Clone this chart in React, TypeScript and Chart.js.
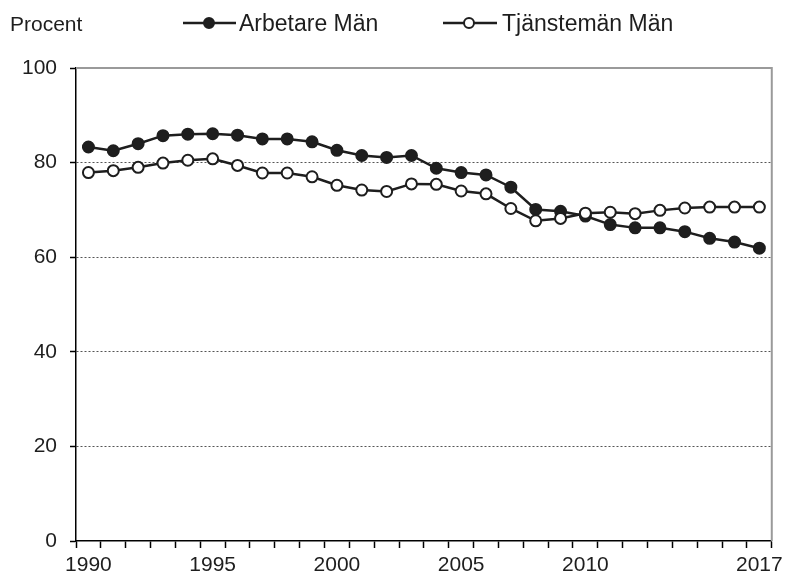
import React, { useEffect, useRef } from "react";
import { Chart, registerables } from "chart.js";

Chart.register(...registerables);

const years = ["1990","1991","1992","1993","1994","1995","1996","1997","1998","1999","2000","2001","2002","2003","2004","2005","2006","2007","2008","2009","2010","2011","2012","2013","2014","2015","2016","2017"];
const arbetareMan = [83.3,82.5,84.0,85.7,86.0,86.1,85.8,85.0,85.0,84.4,82.6,81.5,81.1,81.5,78.8,77.9,77.4,74.8,70.1,69.7,68.7,66.9,66.2,66.2,65.4,64.0,63.2,61.9];
const tjanstemanMan = [77.9,78.3,79.0,79.9,80.5,80.8,79.4,77.8,77.8,77.0,75.2,74.2,73.9,75.5,75.4,74.0,73.4,70.3,67.7,68.2,69.3,69.5,69.2,69.9,70.4,70.6,70.6,70.6];
const shownYears = ["1990","1995","2000","2005","2010","2017"];
const yTicks = [0, 20, 40, 60, 80, 100];
const seriesNames = ["Arbetare Män", "Tjänstemän Män"];
const yTitle = "Procent";

const FONT = "'Liberation Sans', Arial, Helvetica, sans-serif";
const INK = "#1e1e1e";

const overlayPlugin = {
  id: "overlay",
  beforeDatasetsDraw(chart: any) {
    const { ctx, chartArea } = chart;
    ctx.save();
    ctx.strokeStyle = "#9a9a9a";
    ctx.lineWidth = 2;
    ctx.beginPath();
    ctx.moveTo(chartArea.left, chartArea.top);
    ctx.lineTo(chartArea.right, chartArea.top);
    ctx.lineTo(chartArea.right, chartArea.bottom);
    ctx.stroke();
    ctx.restore();
  },
  afterDraw(chart: any) {
    const { ctx } = chart;
    ctx.save();
    ctx.fillStyle = INK;
    ctx.textBaseline = "alphabetic";
    ctx.textAlign = "left";
    ctx.font = `21px ${FONT}`;
    ctx.fillText(yTitle, 10, 31);

    const items = [
      { x0: 183, x1: 236, cx: 209, tx: 239, filled: true, label: seriesNames[0] },
      { x0: 443, x1: 497, cx: 469, tx: 502, filled: false, label: seriesNames[1] },
    ];
    const ly = 23;
    for (const it of items) {
      ctx.strokeStyle = INK;
      ctx.lineWidth = 2.5;
      ctx.beginPath();
      ctx.moveTo(it.x0, ly);
      ctx.lineTo(it.x1, ly);
      ctx.stroke();
      ctx.beginPath();
      ctx.arc(it.cx, ly, 5, 0, Math.PI * 2);
      ctx.fillStyle = it.filled ? INK : "#ffffff";
      ctx.fill();
      ctx.lineWidth = 2;
      ctx.stroke();
      ctx.fillStyle = INK;
      ctx.font = `23px ${FONT}`;
      ctx.fillText(it.label, it.tx, 31);
    }
    ctx.restore();
  },
};

export default function App() {
  const ref = useRef<HTMLCanvasElement | null>(null);

  useEffect(() => {
    document.body.style.margin = "0";
    const canvas = ref.current;
    if (!canvas) return;
    const chart = new Chart(canvas, {
      type: "line",
      data: {
        labels: years,
        datasets: [
          {
            label: seriesNames[1],
            data: tjanstemanMan,
            borderColor: INK,
            borderWidth: 2.5,
            pointRadius: 5.5,
            pointBorderWidth: 2,
            pointBackgroundColor: "#ffffff",
            pointBorderColor: INK,
            tension: 0,
            fill: false,
          },
          {
            label: seriesNames[0],
            data: arbetareMan,
            borderColor: INK,
            borderWidth: 2.5,
            pointRadius: 5.5,
            pointBorderWidth: 2,
            pointBackgroundColor: INK,
            pointBorderColor: INK,
            tension: 0,
            fill: false,
          },
        ],
      },
      options: {
        animation: false,
        responsive: false,
        devicePixelRatio: 1,
        layout: { padding: { top: 68, right: 16, left: 0, bottom: 0 } },
        plugins: {
          legend: { display: false },
          tooltip: { enabled: false },
          title: { display: false },
        },
        scales: {
          x: {
            type: "category",
            offset: true,
            grid: {
              offset: true,
              drawOnChartArea: false,
              drawTicks: true,
              tickLength: 7,
              tickColor: "#000",
              tickWidth: 1.5,
            },
            border: { color: "#000", width: 1.5 },
            ticks: {
              autoSkip: false,
              maxRotation: 0,
              minRotation: 0,
              padding: 5,
              color: INK,
              font: { family: FONT, size: 21 },
              callback: function (this: any, value: any) {
                const lab = this.getLabelForValue(value);
                return shownYears.includes(lab) ? lab : "";
              },
            },
            afterFit: (scale: any) => {
              scale.height = 39;
            },
          },
          y: {
            min: 0,
            max: 100,
            afterBuildTicks: (scale: any) => {
              scale.ticks = yTicks.map((v) => ({ value: v }));
            },
            grid: {
              color: (c: any) =>
                c.tick && (c.tick.value === 0 || c.tick.value === 100) ? "rgba(0,0,0,0)" : "#555",
              lineWidth: 1,
              drawTicks: true,
              tickLength: 6,
              tickColor: "#000",
              tickWidth: 1.5,
              tickBorderDash: [],
            },
            border: { color: "#000", width: 1.5, dash: [2, 2] },
            ticks: {
              padding: 13,
              color: INK,
              font: { family: FONT, size: 21 },
            },
            afterFit: (scale: any) => {
              scale.width = 76;
            },
          },
        },
      },
      plugins: [overlayPlugin],
    } as any);
    return () => chart.destroy();
  }, []);

  return (
    <div style={{ width: 788, height: 580 }}>
      <canvas ref={ref} width={788} height={580} style={{ display: "block" }} />
    </div>
  );
}
